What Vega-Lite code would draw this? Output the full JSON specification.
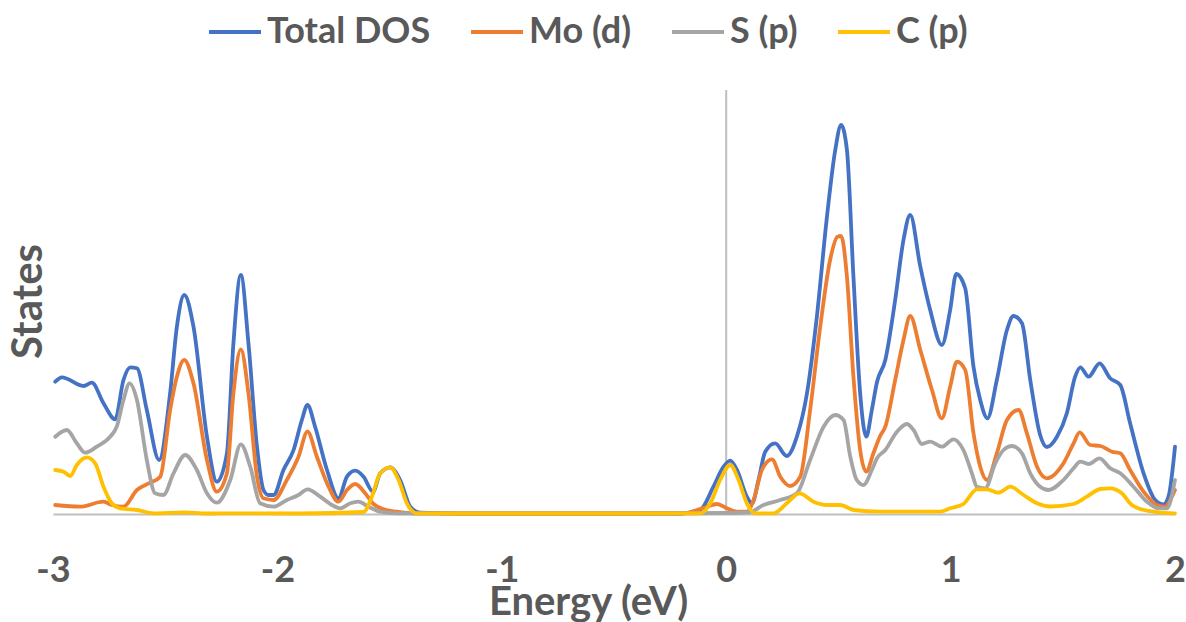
{
  "$schema": "https://vega.github.io/schema/vega-lite/v6.json",
  "width": 1122,
  "height": 424,
  "autosize": {"type": "none"},
  "padding": {"left": 53, "top": 90, "right": 11, "bottom": 108},
  "background": "white",
  "config": {
    "view": {"stroke": null},
    "font": "Lato"
  },
  "layer": [
    {
      "data": {"values": [{"e": 0}]},
      "mark": {"type": "rule", "color": "#BFBFBF", "strokeWidth": 2},
      "encoding": {
        "x": {"field": "e", "type": "quantitative", "scale": {"domain": [-3, 2], "nice": false, "zero": false}}
      }
    },
    {
      "data": {"values": [
        {"s":"Total DOS","e":-2.990,"v":13.23},{"s":"Total DOS","e":-2.960,"v":13.67},{"s":"Total DOS","e":-2.864,"v":12.8},{"s":"Total DOS","e":-2.827,"v":13.13},{"s":"Total DOS","e":-2.775,"v":11.07},{"s":"Total DOS","e":-2.723,"v":9.47},{"s":"Total DOS","e":-2.686,"v":13.4},{"s":"Total DOS","e":-2.656,"v":14.67},{"s":"Total DOS","e":-2.626,"v":14.57},{"s":"Total DOS","e":-2.582,"v":10.4},{"s":"Total DOS","e":-2.527,"v":5.4},{"s":"Total DOS","e":-2.478,"v":12.1},{"s":"Total DOS","e":-2.448,"v":18.73},{"s":"Total DOS","e":-2.415,"v":21.9},{"s":"Total DOS","e":-2.374,"v":18.73},{"s":"Total DOS","e":-2.314,"v":7.73},{"s":"Total DOS","e":-2.270,"v":3.23},{"s":"Total DOS","e":-2.225,"v":6.07},{"s":"Total DOS","e":-2.196,"v":17.07},{"s":"Total DOS","e":-2.163,"v":23.9},{"s":"Total DOS","e":-2.129,"v":17.07},{"s":"Total DOS","e":-2.091,"v":6.73},{"s":"Total DOS","e":-2.062,"v":2.4},{"s":"Total DOS","e":-2.040,"v":1.9},{"s":"Total DOS","e":-2.017,"v":1.9},{"s":"Total DOS","e":-1.973,"v":4.4},{"s":"Total DOS","e":-1.928,"v":6.4},{"s":"Total DOS","e":-1.891,"v":9.4},{"s":"Total DOS","e":-1.866,"v":10.9},{"s":"Total DOS","e":-1.832,"v":8.73},{"s":"Total DOS","e":-1.779,"v":4.4},{"s":"Total DOS","e":-1.728,"v":1.57},{"s":"Total DOS","e":-1.690,"v":3.73},{"s":"Total DOS","e":-1.653,"v":4.33},{"s":"Total DOS","e":-1.616,"v":3.73},{"s":"Total DOS","e":-1.574,"v":2.23},{"s":"Total DOS","e":-1.542,"v":4.07},{"s":"Total DOS","e":-1.497,"v":4.67},{"s":"Total DOS","e":-1.453,"v":3.4},{"s":"Total DOS","e":-1.408,"v":0.73},{"s":"Total DOS","e":-1.364,"v":0.13},{"s":"Total DOS","e":-1.2,"v":0.05},{"s":"Total DOS","e":-0.8,"v":0.05},{"s":"Total DOS","e":-0.4,"v":0.05},{"s":"Total DOS","e":-0.205,"v":0.05},{"s":"Total DOS","e":-0.116,"v":0.4},{"s":"Total DOS","e":-0.057,"v":2.73},{"s":"Total DOS","e":-0.012,"v":4.73},{"s":"Total DOS","e":0.018,"v":5.33},{"s":"Total DOS","e":0.048,"v":4.4},{"s":"Total DOS","e":0.092,"v":1.73},{"s":"Total DOS","e":0.115,"v":1.07},{"s":"Total DOS","e":0.144,"v":3.4},{"s":"Total DOS","e":0.174,"v":6.23},{"s":"Total DOS","e":0.218,"v":7.07},{"s":"Total DOS","e":0.270,"v":5.8},{"s":"Total DOS","e":0.315,"v":7.73},{"s":"Total DOS","e":0.360,"v":12.07},{"s":"Total DOS","e":0.404,"v":19.73},{"s":"Total DOS","e":0.449,"v":29.73},{"s":"Total DOS","e":0.486,"v":36.4},{"s":"Total DOS","e":0.512,"v":38.9},{"s":"Total DOS","e":0.538,"v":36.4},{"s":"Total DOS","e":0.567,"v":23.73},{"s":"Total DOS","e":0.597,"v":12.07},{"s":"Total DOS","e":0.624,"v":7.73},{"s":"Total DOS","e":0.649,"v":10.4},{"s":"Total DOS","e":0.672,"v":13.2},{"s":"Total DOS","e":0.709,"v":15.4},{"s":"Total DOS","e":0.753,"v":21.4},{"s":"Total DOS","e":0.790,"v":27.4},{"s":"Total DOS","e":0.820,"v":29.9},{"s":"Total DOS","e":0.865,"v":24.73},{"s":"Total DOS","e":0.909,"v":20.4},{"s":"Total DOS","e":0.961,"v":16.9},{"s":"Total DOS","e":0.998,"v":20.4},{"s":"Total DOS","e":1.025,"v":24.0},{"s":"Total DOS","e":1.065,"v":22.57},{"s":"Total DOS","e":1.102,"v":14.73},{"s":"Total DOS","e":1.132,"v":11.4},{"s":"Total DOS","e":1.164,"v":9.57},{"s":"Total DOS","e":1.206,"v":13.4},{"s":"Total DOS","e":1.251,"v":18.4},{"s":"Total DOS","e":1.280,"v":19.8},{"s":"Total DOS","e":1.318,"v":19.07},{"s":"Total DOS","e":1.355,"v":13.4},{"s":"Total DOS","e":1.399,"v":7.9},{"s":"Total DOS","e":1.429,"v":6.7},{"s":"Total DOS","e":1.474,"v":7.73},{"s":"Total DOS","e":1.518,"v":10.07},{"s":"Total DOS","e":1.555,"v":13.73},{"s":"Total DOS","e":1.578,"v":14.67},{"s":"Total DOS","e":1.615,"v":13.73},{"s":"Total DOS","e":1.664,"v":15.07},{"s":"Total DOS","e":1.711,"v":13.57},{"s":"Total DOS","e":1.756,"v":12.9},{"s":"Total DOS","e":1.800,"v":9.07},{"s":"Total DOS","e":1.860,"v":4.07},{"s":"Total DOS","e":1.912,"v":1.4},{"s":"Total DOS","e":1.949,"v":0.97},{"s":"Total DOS","e":1.971,"v":1.73},{"s":"Total DOS","e":2.000,"v":6.73},

        {"s":"Mo (d)","e":-2.990,"v":0.9},{"s":"Mo (d)","e":-2.879,"v":0.73},{"s":"Mo (d)","e":-2.775,"v":1.23},{"s":"Mo (d)","e":-2.738,"v":0.9},{"s":"Mo (d)","e":-2.686,"v":0.73},{"s":"Mo (d)","e":-2.626,"v":2.4},{"s":"Mo (d)","e":-2.567,"v":3.13},{"s":"Mo (d)","e":-2.522,"v":3.73},{"s":"Mo (d)","e":-2.478,"v":10.4},{"s":"Mo (d)","e":-2.448,"v":13.73},{"s":"Mo (d)","e":-2.415,"v":15.4},{"s":"Mo (d)","e":-2.374,"v":13.07},{"s":"Mo (d)","e":-2.314,"v":5.4},{"s":"Mo (d)","e":-2.270,"v":2.23},{"s":"Mo (d)","e":-2.225,"v":4.07},{"s":"Mo (d)","e":-2.196,"v":12.07},{"s":"Mo (d)","e":-2.163,"v":16.47},{"s":"Mo (d)","e":-2.129,"v":12.07},{"s":"Mo (d)","e":-2.091,"v":3.73},{"s":"Mo (d)","e":-2.062,"v":1.57},{"s":"Mo (d)","e":-2.017,"v":1.4},{"s":"Mo (d)","e":-1.958,"v":3.4},{"s":"Mo (d)","e":-1.906,"v":5.73},{"s":"Mo (d)","e":-1.866,"v":8.23},{"s":"Mo (d)","e":-1.824,"v":5.73},{"s":"Mo (d)","e":-1.772,"v":2.73},{"s":"Mo (d)","e":-1.728,"v":1.23},{"s":"Mo (d)","e":-1.690,"v":2.4},{"s":"Mo (d)","e":-1.653,"v":3.0},{"s":"Mo (d)","e":-1.609,"v":2.07},{"s":"Mo (d)","e":-1.572,"v":1.0},{"s":"Mo (d)","e":-1.527,"v":0.47},{"s":"Mo (d)","e":-1.467,"v":0.23},{"s":"Mo (d)","e":-1.393,"v":0.07},{"s":"Mo (d)","e":-1.2,"v":0.03},{"s":"Mo (d)","e":-0.8,"v":0.03},{"s":"Mo (d)","e":-0.4,"v":0.03},{"s":"Mo (d)","e":-0.205,"v":0.03},{"s":"Mo (d)","e":-0.131,"v":0.4},{"s":"Mo (d)","e":-0.086,"v":0.73},{"s":"Mo (d)","e":-0.041,"v":1.0},{"s":"Mo (d)","e":0.003,"v":0.57},{"s":"Mo (d)","e":0.048,"v":0.23},{"s":"Mo (d)","e":0.092,"v":0.23},{"s":"Mo (d)","e":0.122,"v":1.4},{"s":"Mo (d)","e":0.159,"v":4.4},{"s":"Mo (d)","e":0.204,"v":5.47},{"s":"Mo (d)","e":0.241,"v":3.73},{"s":"Mo (d)","e":0.285,"v":2.8},{"s":"Mo (d)","e":0.330,"v":3.73},{"s":"Mo (d)","e":0.374,"v":10.4},{"s":"Mo (d)","e":0.419,"v":18.73},{"s":"Mo (d)","e":0.463,"v":25.4},{"s":"Mo (d)","e":0.496,"v":27.73},{"s":"Mo (d)","e":0.512,"v":27.8},{"s":"Mo (d)","e":0.538,"v":23.73},{"s":"Mo (d)","e":0.567,"v":13.73},{"s":"Mo (d)","e":0.597,"v":6.4},{"s":"Mo (d)","e":0.624,"v":4.23},{"s":"Mo (d)","e":0.656,"v":6.07},{"s":"Mo (d)","e":0.686,"v":7.8},{"s":"Mo (d)","e":0.709,"v":8.73},{"s":"Mo (d)","e":0.753,"v":13.4},{"s":"Mo (d)","e":0.790,"v":17.4},{"s":"Mo (d)","e":0.820,"v":19.8},{"s":"Mo (d)","e":0.865,"v":16.4},{"s":"Mo (d)","e":0.917,"v":12.4},{"s":"Mo (d)","e":0.961,"v":9.57},{"s":"Mo (d)","e":0.998,"v":12.73},{"s":"Mo (d)","e":1.028,"v":15.23},{"s":"Mo (d)","e":1.065,"v":14.4},{"s":"Mo (d)","e":1.102,"v":8.07},{"s":"Mo (d)","e":1.132,"v":4.73},{"s":"Mo (d)","e":1.162,"v":3.4},{"s":"Mo (d)","e":1.206,"v":6.07},{"s":"Mo (d)","e":1.251,"v":9.4},{"s":"Mo (d)","e":1.303,"v":10.4},{"s":"Mo (d)","e":1.340,"v":8.07},{"s":"Mo (d)","e":1.385,"v":4.73},{"s":"Mo (d)","e":1.429,"v":3.57},{"s":"Mo (d)","e":1.503,"v":5.07},{"s":"Mo (d)","e":1.548,"v":7.07},{"s":"Mo (d)","e":1.575,"v":8.17},{"s":"Mo (d)","e":1.622,"v":6.9},{"s":"Mo (d)","e":1.667,"v":6.8},{"s":"Mo (d)","e":1.719,"v":6.23},{"s":"Mo (d)","e":1.756,"v":6.07},{"s":"Mo (d)","e":1.800,"v":4.4},{"s":"Mo (d)","e":1.860,"v":2.23},{"s":"Mo (d)","e":1.919,"v":0.9},{"s":"Mo (d)","e":1.956,"v":0.73},{"s":"Mo (d)","e":1.986,"v":1.73},{"s":"Mo (d)","e":2.000,"v":2.4},

        {"s":"S (p)","e":-2.990,"v":7.73},{"s":"S (p)","e":-2.938,"v":8.4},{"s":"S (p)","e":-2.894,"v":7.07},{"s":"S (p)","e":-2.857,"v":6.13},{"s":"S (p)","e":-2.805,"v":6.73},{"s":"S (p)","e":-2.745,"v":7.73},{"s":"S (p)","e":-2.716,"v":8.73},{"s":"S (p)","e":-2.686,"v":11.4},{"s":"S (p)","e":-2.659,"v":13.07},{"s":"S (p)","e":-2.626,"v":11.4},{"s":"S (p)","e":-2.582,"v":5.4},{"s":"S (p)","e":-2.545,"v":2.07},{"s":"S (p)","e":-2.508,"v":1.9},{"s":"S (p)","e":-2.463,"v":4.07},{"s":"S (p)","e":-2.411,"v":5.9},{"s":"S (p)","e":-2.359,"v":4.4},{"s":"S (p)","e":-2.314,"v":2.07},{"s":"S (p)","e":-2.270,"v":1.13},{"s":"S (p)","e":-2.210,"v":3.4},{"s":"S (p)","e":-2.163,"v":6.97},{"s":"S (p)","e":-2.121,"v":4.73},{"s":"S (p)","e":-2.077,"v":1.07},{"s":"S (p)","e":-2.017,"v":0.73},{"s":"S (p)","e":-1.958,"v":1.4},{"s":"S (p)","e":-1.906,"v":1.9},{"s":"S (p)","e":-1.866,"v":2.47},{"s":"S (p)","e":-1.809,"v":1.73},{"s":"S (p)","e":-1.757,"v":0.9},{"s":"S (p)","e":-1.720,"v":0.57},{"s":"S (p)","e":-1.675,"v":1.07},{"s":"S (p)","e":-1.639,"v":1.23},{"s":"S (p)","e":-1.594,"v":0.73},{"s":"S (p)","e":-1.542,"v":0.23},{"s":"S (p)","e":-1.467,"v":0.07},{"s":"S (p)","e":-1.2,"v":0.05},{"s":"S (p)","e":-0.8,"v":0.05},{"s":"S (p)","e":-0.4,"v":0.05},{"s":"S (p)","e":0.0,"v":0.1},{"s":"S (p)","e":0.107,"v":0.2},{"s":"S (p)","e":0.166,"v":0.9},{"s":"S (p)","e":0.241,"v":1.4},{"s":"S (p)","e":0.315,"v":2.07},{"s":"S (p)","e":0.374,"v":5.4},{"s":"S (p)","e":0.434,"v":8.73},{"s":"S (p)","e":0.486,"v":9.9},{"s":"S (p)","e":0.523,"v":9.4},{"s":"S (p)","e":0.553,"v":5.73},{"s":"S (p)","e":0.582,"v":3.4},{"s":"S (p)","e":0.612,"v":2.9},{"s":"S (p)","e":0.649,"v":4.4},{"s":"S (p)","e":0.672,"v":5.57},{"s":"S (p)","e":0.709,"v":6.4},{"s":"S (p)","e":0.761,"v":8.23},{"s":"S (p)","e":0.805,"v":9.0},{"s":"S (p)","e":0.835,"v":8.4},{"s":"S (p)","e":0.872,"v":7.0},{"s":"S (p)","e":0.909,"v":7.23},{"s":"S (p)","e":0.961,"v":6.73},{"s":"S (p)","e":1.013,"v":7.47},{"s":"S (p)","e":1.057,"v":6.4},{"s":"S (p)","e":1.095,"v":4.07},{"s":"S (p)","e":1.117,"v":2.73},{"s":"S (p)","e":1.154,"v":2.57},{"s":"S (p)","e":1.199,"v":5.07},{"s":"S (p)","e":1.236,"v":6.4},{"s":"S (p)","e":1.273,"v":6.8},{"s":"S (p)","e":1.318,"v":6.07},{"s":"S (p)","e":1.355,"v":4.07},{"s":"S (p)","e":1.399,"v":2.73},{"s":"S (p)","e":1.436,"v":2.4},{"s":"S (p)","e":1.503,"v":3.4},{"s":"S (p)","e":1.548,"v":4.57},{"s":"S (p)","e":1.578,"v":5.23},{"s":"S (p)","e":1.615,"v":5.0},{"s":"S (p)","e":1.664,"v":5.57},{"s":"S (p)","e":1.711,"v":4.57},{"s":"S (p)","e":1.756,"v":4.07},{"s":"S (p)","e":1.815,"v":2.73},{"s":"S (p)","e":1.875,"v":1.23},{"s":"S (p)","e":1.927,"v":0.57},{"s":"S (p)","e":1.964,"v":0.57},{"s":"S (p)","e":2.000,"v":3.4},

        {"s":"C (p)","e":-2.990,"v":4.4},{"s":"C (p)","e":-2.953,"v":4.23},{"s":"C (p)","e":-2.923,"v":3.8},{"s":"C (p)","e":-2.894,"v":4.9},{"s":"C (p)","e":-2.849,"v":5.67},{"s":"C (p)","e":-2.812,"v":5.07},{"s":"C (p)","e":-2.775,"v":2.73},{"s":"C (p)","e":-2.738,"v":1.07},{"s":"C (p)","e":-2.701,"v":0.57},{"s":"C (p)","e":-2.626,"v":0.4},{"s":"C (p)","e":-2.552,"v":0.07},{"s":"C (p)","e":-2.418,"v":0.17},{"s":"C (p)","e":-2.314,"v":0.05},{"s":"C (p)","e":-2.166,"v":0.07},{"s":"C (p)","e":-1.898,"v":0.05},{"s":"C (p)","e":-1.616,"v":0.2},{"s":"C (p)","e":-1.579,"v":1.73},{"s":"C (p)","e":-1.542,"v":4.07},{"s":"C (p)","e":-1.497,"v":4.67},{"s":"C (p)","e":-1.460,"v":3.4},{"s":"C (p)","e":-1.423,"v":1.07},{"s":"C (p)","e":-1.378,"v":0.07},{"s":"C (p)","e":-1.2,"v":0.05},{"s":"C (p)","e":-0.8,"v":0.05},{"s":"C (p)","e":-0.4,"v":0.05},{"s":"C (p)","e":-0.116,"v":0.07},{"s":"C (p)","e":-0.071,"v":1.07},{"s":"C (p)","e":-0.027,"v":3.4},{"s":"C (p)","e":0.018,"v":4.9},{"s":"C (p)","e":0.055,"v":3.4},{"s":"C (p)","e":0.092,"v":1.07},{"s":"C (p)","e":0.129,"v":0.07},{"s":"C (p)","e":0.211,"v":0.07},{"s":"C (p)","e":0.270,"v":1.07},{"s":"C (p)","e":0.327,"v":2.07},{"s":"C (p)","e":0.389,"v":1.23},{"s":"C (p)","e":0.449,"v":0.9},{"s":"C (p)","e":0.508,"v":0.9},{"s":"C (p)","e":0.567,"v":0.4},{"s":"C (p)","e":0.686,"v":0.23},{"s":"C (p)","e":0.954,"v":0.23},{"s":"C (p)","e":0.998,"v":0.57},{"s":"C (p)","e":1.057,"v":1.0},{"s":"C (p)","e":1.117,"v":2.47},{"s":"C (p)","e":1.162,"v":2.47},{"s":"C (p)","e":1.213,"v":2.13},{"s":"C (p)","e":1.266,"v":2.73},{"s":"C (p)","e":1.325,"v":1.9},{"s":"C (p)","e":1.385,"v":1.07},{"s":"C (p)","e":1.444,"v":0.75},{"s":"C (p)","e":1.548,"v":1.0},{"s":"C (p)","e":1.607,"v":1.73},{"s":"C (p)","e":1.667,"v":2.5},{"s":"C (p)","e":1.711,"v":2.57},{"s":"C (p)","e":1.763,"v":2.07},{"s":"C (p)","e":1.808,"v":0.9},{"s":"C (p)","e":1.875,"v":0.33},{"s":"C (p)","e":1.993,"v":0.07},{"s":"C (p)","e":2.000,"v":0.07}
      ]},
      "mark": {"type": "line", "interpolate": "monotone", "strokeWidth": 3.8, "strokeCap": "round", "strokeJoin": "round"},
      "encoding": {
        "x": {
          "field": "e", "type": "quantitative",
          "scale": {"domain": [-3, 2], "nice": false, "zero": false},
          "axis": {
            "title": "Energy (eV)",
            "values": [-3, -2, -1, 0, 1, 2],
            "labelExpr": "datum.value < 0 ? '-' + format(-datum.value, 'd') : format(datum.value, 'd')",
            "ticks": false, "grid": false,
            "domainColor": "#BFBFBF", "domainWidth": 2,
            "labelFont": "Lato", "labelFontWeight": "bold", "labelFontSize": 36, "labelColor": "#595959",
            "labelBaseline": "alphabetic", "labelPadding": 67, "labelFlush": false, "labelOverlap": false,
            "titleFont": "Lato", "titleFontWeight": "bold", "titleFontSize": 40, "titleColor": "#595959",
            "titleX": 535, "titleY": 100, "titleBaseline": "alphabetic", "titleAlign": "center", "titleAnchor": null
          }
        },
        "y": {
          "field": "v", "type": "quantitative",
          "scale": {"domain": [0, 42.4], "nice": false, "zero": true},
          "axis": {
            "title": "States", "labels": false, "ticks": false, "domain": false, "grid": false,
            "titleFont": "Lato", "titleFontWeight": "bold", "titleFontSize": 42, "titleColor": "#595959",
            "titleX": -25, "titleY": 211, "titleAngle": -90, "titleBaseline": "middle", "titleAlign": "center", "titleAnchor": null
          }
        },
        "color": {
          "field": "s", "type": "nominal",
          "scale": {"domain": ["Total DOS", "Mo (d)", "S (p)", "C (p)"], "range": ["#4472C4", "#ED7D31", "#A5A5A5", "#FFC000"]},
          "legend": {
            "title": null, "orient": "none", "legendX": 154, "legendY": -86, "direction": "horizontal",
            "symbolType": "stroke", "symbolSize": 2700, "symbolStrokeWidth": 4,
            "labelFont": "Lato", "labelFontWeight": "bold", "labelFontSize": 36, "labelColor": "#595959",
            "labelOffset": 4, "columnPadding": 32, "labelLimit": 400
          }
        },
        "order": {"field": "s"}
      }
    }
  ]
}
